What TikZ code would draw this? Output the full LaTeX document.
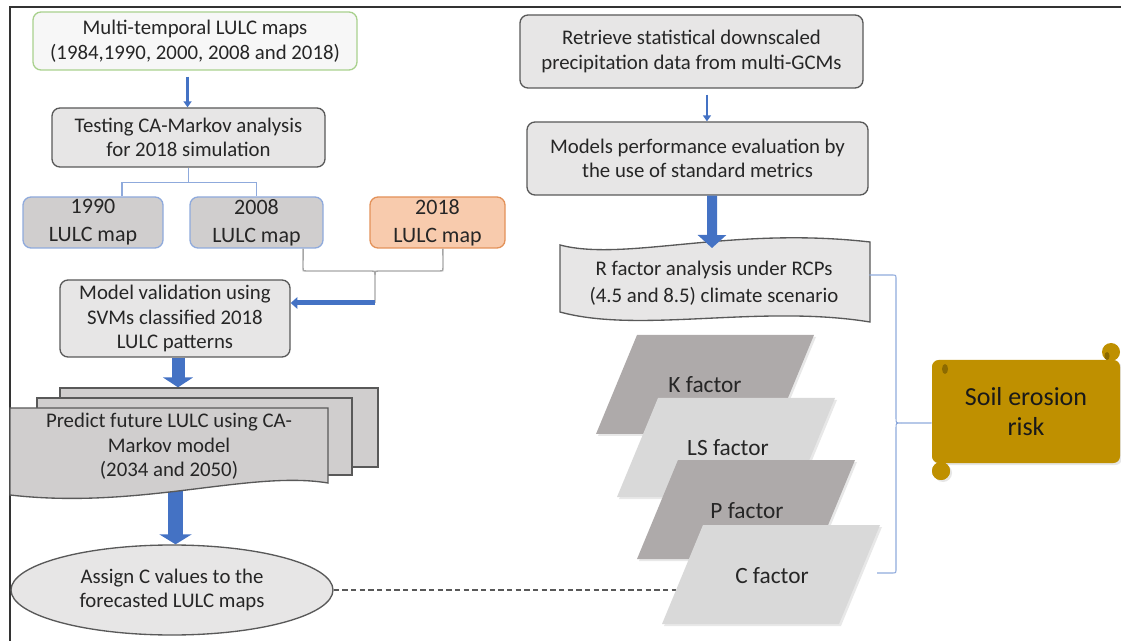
\documentclass[tikz,border=0pt]{standalone}
\usepackage{fontspec}
\setmainfont{Carlito}
\usetikzlibrary{arrows.meta,shapes.geometric,shadows,calc}

\definecolor{txtc}{HTML}{262626}
\definecolor{edgec}{HTML}{595959}
\definecolor{lgray}{HTML}{E7E6E6}
\definecolor{mgray}{HTML}{D0CECE}
\definecolor{kgray}{HTML}{AEAAAA}
\definecolor{sgray}{HTML}{D9D9D9}
\definecolor{greenb}{HTML}{A9D18E}
\definecolor{blueb}{HTML}{8FAADC}
\definecolor{peach}{HTML}{F8CBAD}
\definecolor{peachb}{HTML}{E3925A}
\definecolor{arrowb}{HTML}{4472C4}
\definecolor{gold}{HTML}{BF9000}
\definecolor{golddk}{HTML}{8C6A00}
\definecolor{bracketg}{HTML}{A6A6A6}

\pgfdeclarelayer{back}
\pgfsetlayers{back,main}

\tikzset{
  txt/.style={font=\fontsize{15.6pt}{18.5pt}\selectfont, text=txtc, align=center},
  rbox/.style={rectangle, rounded corners=6pt, inner sep=0pt, line width=1pt, txt},
  yearbox/.style={font=\fontsize{16.5pt}{21pt}\selectfont},
  sheet/.style={draw=edgec, fill=mgray, line width=1pt},
  thinarrow/.style={draw=arrowb, line width=2.2pt, shorten <=4.5pt,
    -{Triangle[length=4.5pt,width=6pt]}},
  midarrow/.style={draw=arrowb, line width=3.75pt, -{Triangle[length=5pt,width=8.5pt]}},
  blockarrow/.style={draw=arrowb},
  connb/.style={draw=blueb, line width=0.8pt},
  grayb/.style={draw=bracketg, line width=1.1pt},
  factorsheet/.style={draw=none, drop shadow={shadow xshift=1.5pt,shadow yshift=-1.5pt,opacity=0.18}},
  factortxt/.style={font=\fontsize{17.5pt}{20pt}\selectfont, text=txtc}
}

\begin{document}
\begin{tikzpicture}[x=0.75pt,y=-0.75pt]
\useasboundingbox (0,0) rectangle (1121,641);

% outer frame
\draw[black!80, line width=1.5pt] (9.5,641) -- (9.5,7.5) -- (1121,7.5);

% ---------- left column ----------
\node[rbox, minimum width=243pt, minimum height=43.5pt, draw=greenb, fill=white!97!black] (A) at (195,41)
  {Multi-temporal LULC maps\\(1984,1990, 2000, 2008 and 2018)};
\node[rbox, minimum width=204.75pt, minimum height=44.25pt, draw=edgec, fill=lgray] (B) at (188.5,137.5)
  {Testing CA-Markov analysis\\for 2018 simulation};
\node[rbox, minimum width=105pt, minimum height=38.25pt, draw=blueb, fill=mgray, yearbox] (y90) at (93,222.5) {1990\\LULC map};
\node[rbox, minimum width=99.75pt, minimum height=38.25pt, draw=blueb, fill=mgray, yearbox] (y08) at (256.5,222.5) {2008\\LULC map};
\node[rbox, minimum width=101.25pt, minimum height=38.25pt, draw=peachb, fill=peach, yearbox] (y18) at (437.5,222.5) {2018\\LULC map};
\node[rbox, minimum width=172.5pt, minimum height=57.75pt, draw=edgec, fill=lgray] (C) at (175,318.5)
  {Model validation using\\SVMs classified 2018\\LULC patterns};

% stacked documents
\node[rectangle, sheet, minimum width=238.5pt, minimum height=59.25pt] (back) at (219,427.5) {};
\node[rectangle, sheet, minimum width=236.25pt, minimum height=57.75pt] (mid) at (194.5,436.5) {};
\path[sheet] (10,408) -- (328,408) -- (328,483)
  .. controls (250,470) and (140,510) .. (10,495) -- cycle;
\node[txt, minimum width=238.5pt, minimum height=57.75pt, inner sep=0pt] (front) at (169,446.5)
  {Predict future LULC using CA-\\Markov model\\(2034 and 2050)};

\node[ellipse, draw=edgec, fill=lgray, line width=1pt, inner sep=0pt,
  minimum width=241.5pt, minimum height=67.5pt, txt] (ell) at (172,590)
  {Assign C values to the\\forecasted LULC maps};

% ---------- right column ----------
\node[rbox, minimum width=257.25pt, minimum height=54.75pt, draw=edgec, fill=lgray] (D) at (691.5,51.5)
  {Retrieve statistical downscaled\\precipitation data from multi-GCMs};
\node[rbox, minimum width=255.75pt, minimum height=54.75pt, draw=edgec, fill=lgray] (E) at (697.5,158.5)
  {Models performance evaluation by\\the use of standard metrics};

% punched-tape sheet for the R factor
\path[draw=edgec, fill=lgray, line width=1pt] (560,245)
  .. controls (625,262) and (730,226) .. (870,242) -- (870,322)
  .. controls (760,304) and (640,334) .. (560,312) -- cycle;
\node[txt, font=\fontsize{15.6pt}{20pt}\selectfont, minimum width=232.5pt,
  minimum height=52.5pt, inner sep=0pt] (rfac) at (714,283)
  {R factor analysis under RCPs\\(4.5 and 8.5) climate scenario};
\coordinate (rTop) at (712,248);

% factor sheets
\path[factorsheet, fill=kgray] (637,335) -- (814,335) -- (773,434) -- (596,434) -- cycle;
\node[factortxt] (kf) at (705,385) {K factor};
\path[factorsheet, fill=sgray] (658,398) -- (835,398) -- (794,497) -- (617,497) -- cycle;
\node[factortxt] (lsf) at (728,448) {LS factor};
\path[factorsheet, fill=kgray] (678,460) -- (855,460) -- (814,559) -- (637,559) -- cycle;
\node[factortxt] (pf) at (747,511) {P factor};
\path[factorsheet, fill=sgray] (703,525) -- (880,525) -- (839,624) -- (662,624) -- cycle;
\node[factortxt] (cf) at (772,576) {C factor};
\coordinate (cfl) at (676,590);

% scroll
\fill[gold, drop shadow={shadow xshift=1.5pt,shadow yshift=-1.5pt,opacity=0.2}]
  (941,471) circle [radius=9];
\fill[gold, drop shadow={shadow xshift=1.5pt,shadow yshift=-1.5pt,opacity=0.2}, rounded corners=5pt]
  (932,360) rectangle (1120,463);
\fill[gold] (1111,352) circle [radius=9];
\fill[gold] (941,471) circle [radius=9];
\fill[golddk] (945,369) ellipse [x radius=3, y radius=5];
\fill[golddk] (1107,356) ellipse [x radius=2.5, y radius=4];
\node[font=\fontsize{19.5pt}{23pt}\selectfont, align=center, text=black!90,
  minimum width=141pt, minimum height=77.25pt, inner sep=0pt] (soil) at (1026,411.5)
  {Soil erosion\\risk};

% ---------- connectors ----------
\draw[thinarrow] ([xshift=-5.6pt]A.south) -- ([xshift=-5.6pt]A.south |- B.north);
\draw[connb] (B.south) -- ++(0,15) coordinate (bj);
\draw[connb] ([xshift=21.75pt]y90.north) |- (bj) -| (y08.north);

\coordinate (btip) at (375,303);
\draw[grayb] ([xshift=34.9pt]y08.south) -- (303,268)
  .. controls (303,271) .. (306,271) -- (372,271)
  .. controls (375,271) .. (375,275) -- (btip);
\draw[grayb] ([xshift=4.1pt]y18.south) -- (443,268)
  .. controls (443,271) .. (440,271) -- (378,271)
  .. controls (375,271) .. (375,275);
\draw[midarrow] (btip) -- (btip -| C.east);

\begin{pgfonlayer}{back}
  \draw[blockarrow, line width=9.75pt, -{Triangle[length=7.5pt,width=22.5pt]}]
    ([xshift=2.25pt]C.south) -- ([xshift=2.25pt]C.south |- back.north);
  \draw[blockarrow, line width=11.25pt, -{Triangle[length=7.5pt,width=24pt]}]
    ([xshift=4.9pt]front.south) -- ([xshift=4.9pt]front.south |- ell.north);
  \draw[edgec, line width=0.9pt, dash pattern=on 4pt off 2.5pt] (ell.east) -- (cfl);
\end{pgfonlayer}

\draw[thinarrow] ([xshift=11.6pt]D.south) -- ([xshift=11.6pt]D.south |- E.north);
\draw[blockarrow, line width=7.5pt, -{Triangle[length=9.75pt,width=21pt]}]
  ([xshift=10.9pt]E.south) -- (rTop);

% brace gathering the factors
\coordinate (bTop) at ([yshift=6pt]rfac.east);
\coordinate (bBot) at (877,573);
\draw[connb] (bTop) -- (892,275) .. controls (896,275) .. (896,279) -- (896,418)
  .. controls (896,423) .. (901,423) coordinate (bTip)
  .. controls (896,423) .. (896,428) -- (896,569)
  .. controls (896,573) .. (892,573) -- (bBot);
\draw[connb] (bTip) -- ([yshift=-8.6pt]soil.west);
\end{tikzpicture}
\end{document}
